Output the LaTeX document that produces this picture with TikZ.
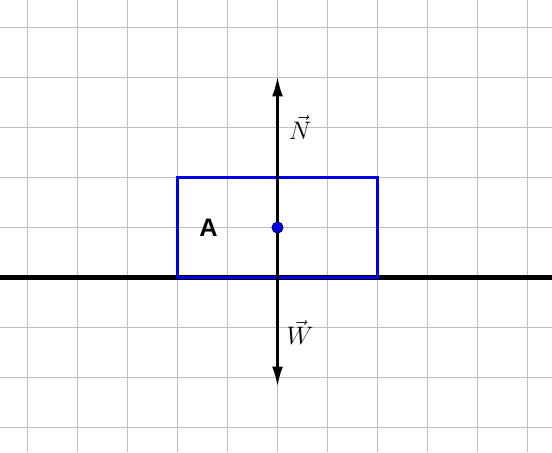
\documentclass[tikz,border=0pt]{standalone}
\usepackage{amsmath, amssymb}
\usepackage{fontspec}
\newfontfamily\labelfont{Liberation Sans}
\usepackage{tikz}
\usetikzlibrary{arrows.meta, positioning, calc}
\definecolor{gridgray}{RGB}{192,192,192}
\definecolor{boxblue}{RGB}{0,0,230}

\tikzset{
  force/.style={line width=1.5pt, -{Latex[length=4mm, width=2.2mm]}},
  forcelabel/.style={font=\Large, inner sep=1pt},
  cmdot/.style={circle, fill=boxblue, draw=black!70!blue, line width=0.4pt,
                inner sep=0pt, minimum size=2.2mm}
}

\begin{document}
\begin{tikzpicture}
  % Page size (grid unit = 1cm)
  \useasboundingbox (-5.55,-4.49) rectangle (5.49,4.55);

  % Background grid
  \draw[gridgray, line width=0.6pt] (-5.55,-4.49) grid[step=1] (5.49,4.55);

  % Ground
  \draw[black, line width=2.4pt] (-5.55,-1) -- (5.49,-1);

  % Block A
  \draw[boxblue, line width=1.2pt] (-2,-1) rectangle (2,1);
  \node[font=\labelfont\bfseries\Large] (lblA) at (-1.38,0) {A};

  % Centre of mass and the two forces
  \node[cmdot] (cm) at (0,0) {};
  \coordinate (Ntip) at (0,3.02);
  \coordinate (Wtip) at (0,-3.18);
  \draw[force] (cm.center) -- (Ntip);
  \draw[force] (cm.center) -- (Wtip);
  \node[forcelabel] (lblN) at (0.45,2.0) {$\vec{N}$};
  \node[forcelabel] (lblW) at (0.45,-2.1) {$\vec{W}$};
  \node[cmdot] at (cm) {};
\end{tikzpicture}
\end{document}
